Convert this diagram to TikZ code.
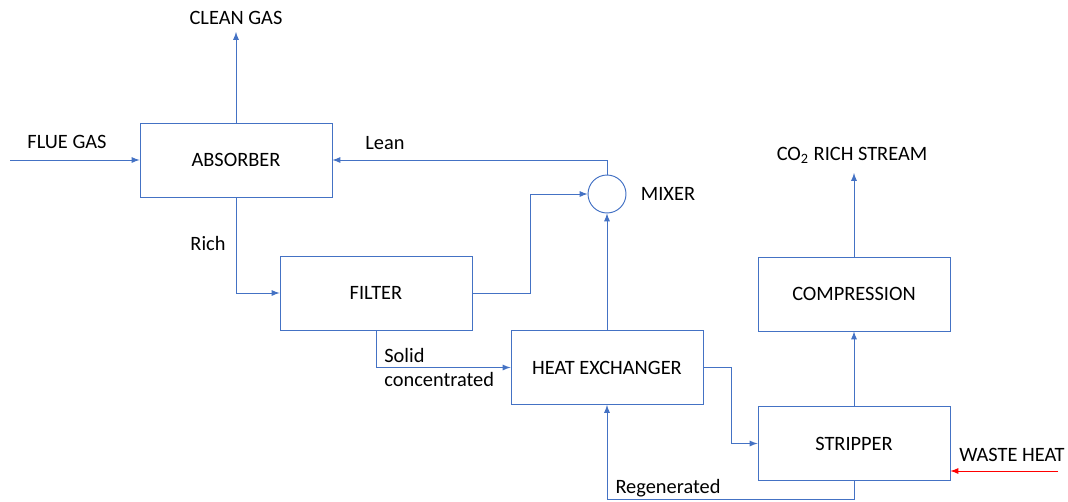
\documentclass[tikz,border=0pt]{standalone}
\usepackage{fontspec}
\setmainfont{Carlito}
\usepackage{tikz}
\usetikzlibrary{calc,arrows}
\definecolor{lineblue}{RGB}{68,114,196}
\tikzset{
  unit/.style={draw=lineblue,line width=0.55pt,minimum width=3.84cm,minimum height=1.48cm,inner sep=0pt},
  flow/.style={draw=lineblue,line width=0.55pt,-latex},
  heat/.style={draw=red,line width=0.55pt,-latex},
  tag/.style={inner sep=0pt}
}

\begin{document}
\begin{tikzpicture}[x=0.02cm,y=-0.02cm,font=\fontsize{11.6}{14.2}\selectfont]
                      \useasboundingbox (0,0) rectangle (1068,501);
                      % units
                      \node[unit](absorber)at(236,160){ABSORBER};
                      \node[unit](filter)at(376,293){FILTER};
                      \node[unit](hx)at(607,367.5){HEAT EXCHANGER};
                      \node[unit](stripper)at(854,443.5){STRIPPER};
                      \node[unit](compression)at(854,294){COMPRESSION};
                      \node[circle,draw=lineblue,line width=0.55pt,minimum size=0.76cm,inner sep=0pt](mixer)at(607,194){};
                      % free ends
                      \coordinate(fluein)at(10,160);
                      \coordinate(cleanout)at(236,32);
                      \coordinate(co2out)at(854,173);
                      \coordinate(heatin)at(1058,471);
                      % streams
                      \draw[flow](fluein)--(fluein-|absorber.west);
                      \draw[flow](absorber.north)--(cleanout);
                      \draw[flow](absorber.south)|-(filter.west);
                      \draw[flow](filter.east)--++(58,0)|-(mixer.west);
                      \draw[flow](mixer.north)|-(absorber.east);
                      \draw[flow](filter.south)|-(hx.west);
                      \draw[flow](hx.north)--(mixer.south);
                      \draw[flow](hx.east)--++(28,0)|-(stripper.west);
                      \draw[flow](stripper.north)--(compression.south);
                      \draw[flow](compression.north)--(co2out);
                      \draw[flow](stripper.south)--++(0,18)-|(hx.south);
                      \draw[heat](heatin)--(heatin-|stripper.east);
                      % labels
                      \node[tag](fluegas)at(67,142){FLUE GAS};
                      \node[tag](cleangas)at(236,18){CLEAN GAS};
                      \node[tag](lean)at(385,143){Lean};
                      \node[tag](rich)at(208,243){Rich};
                      \node[tag](mixertag)at(668,194){MIXER};
                      \node[tag,align=left,anchor=west](solid)at(384,367.5){Solid\\concentrated};
                      \node[tag](co2)at(852,155){CO\textsubscript{2} RICH STREAM};
                      \node[tag](wasteheat)at(1012,455){WASTE HEAT};
                      \node[tag](regen)at(668,488){Regenerated};
                  \end{tikzpicture}
\end{document}
